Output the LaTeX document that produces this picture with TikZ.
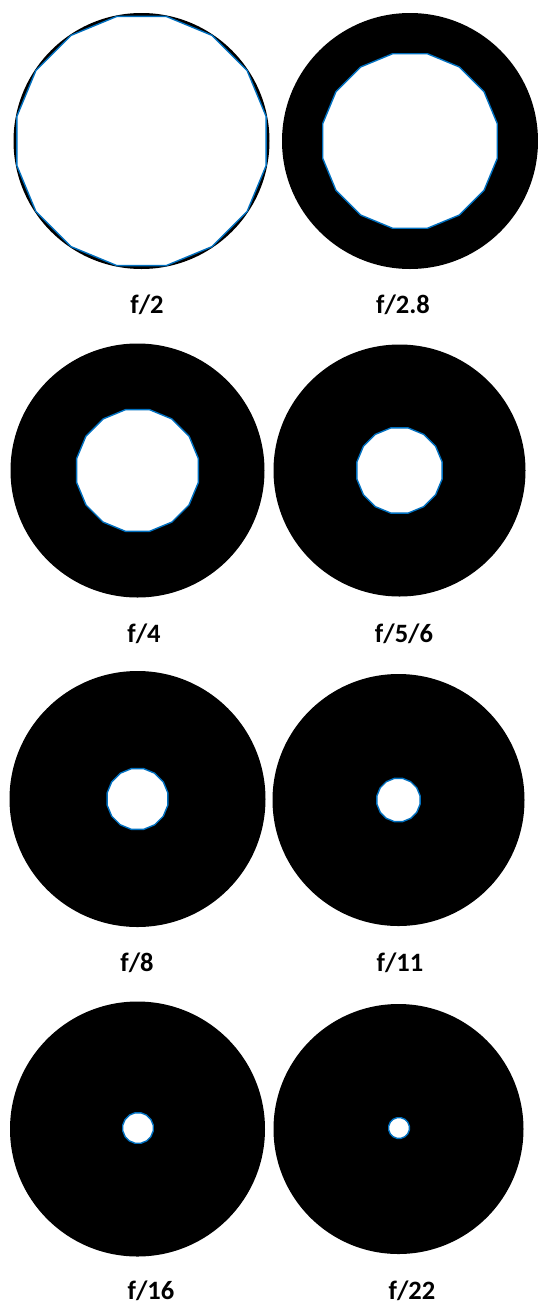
\documentclass[tikz,border=0pt]{standalone}
\usepackage{fontspec}
\setmainfont{Carlito}
\usetikzlibrary{shapes.geometric}
\definecolor{rimblue}{RGB}{0,112,192}
\begin{document}
\begin{tikzpicture}[x=1pt,y=-1pt,
  disk/.style={circle, fill=black, inner sep=0pt, outer sep=0pt},
  hole/.style={regular polygon, regular polygon sides=16, fill=white, draw=rimblue, line width=1.4pt, line join=round, inner sep=0pt, outer sep=0pt},
  lab/.style={font=\bfseries\fontsize{26.5}{30}\selectfont, inner sep=0pt, anchor=base}]
\useasboundingbox (0,0) rectangle (538,1304);
\fill[white] (0,0) rectangle (538,1304);
% row 1
\node[disk, minimum size=256pt] (d1) at (141.5,141) {};
\node[hole, minimum size=254pt] (h1) at (d1.center) {};
\node[lab] (l1) at (147,313) {f/2};
\node[disk, minimum size=256pt] (d2) at (410,141) {};
\node[hole, minimum size=178pt] (h2) at (d2.center) {};
\node[lab] (l2) at (403,313) {f/2.8};
% row 2
\node[disk, minimum size=254pt] (d3) at (137.5,470.5) {};
\node[hole, minimum size=124pt] (h3) at (d3.center) {};
\node[lab] (l3) at (144,642) {f/4};
\node[disk, minimum size=252pt] (d4) at (399.5,470.5) {};
\node[hole, minimum size=87pt] (h4) at (d4.center) {};
\node[lab] (l4) at (404,642) {f/5/6};
% row 3
\node[disk, minimum size=256pt] (d5) at (137.5,799) {};
\node[hole, minimum size=62pt] (h5) at (d5.center) {};
\node[lab] (l5) at (137,971) {f/8};
\node[disk, minimum size=252pt] (d6) at (398.5,800) {};
\node[hole, minimum size=44pt] (h6) at (d6.center) {};
\node[lab] (l6) at (400,971) {f/11};
% row 4
\node[disk, minimum size=255pt] (d7) at (137.5,1129) {};
\node[hole, minimum size=31pt] (h7) at (138,1128) {};
\node[lab] (l7) at (151,1299) {f/16};
\node[disk, minimum size=250pt] (d8) at (398.5,1129) {};
\node[hole, minimum size=21pt] (h8) at (399,1128) {};
\node[lab] (l8) at (412,1299) {f/22};
\end{tikzpicture}
\end{document}
